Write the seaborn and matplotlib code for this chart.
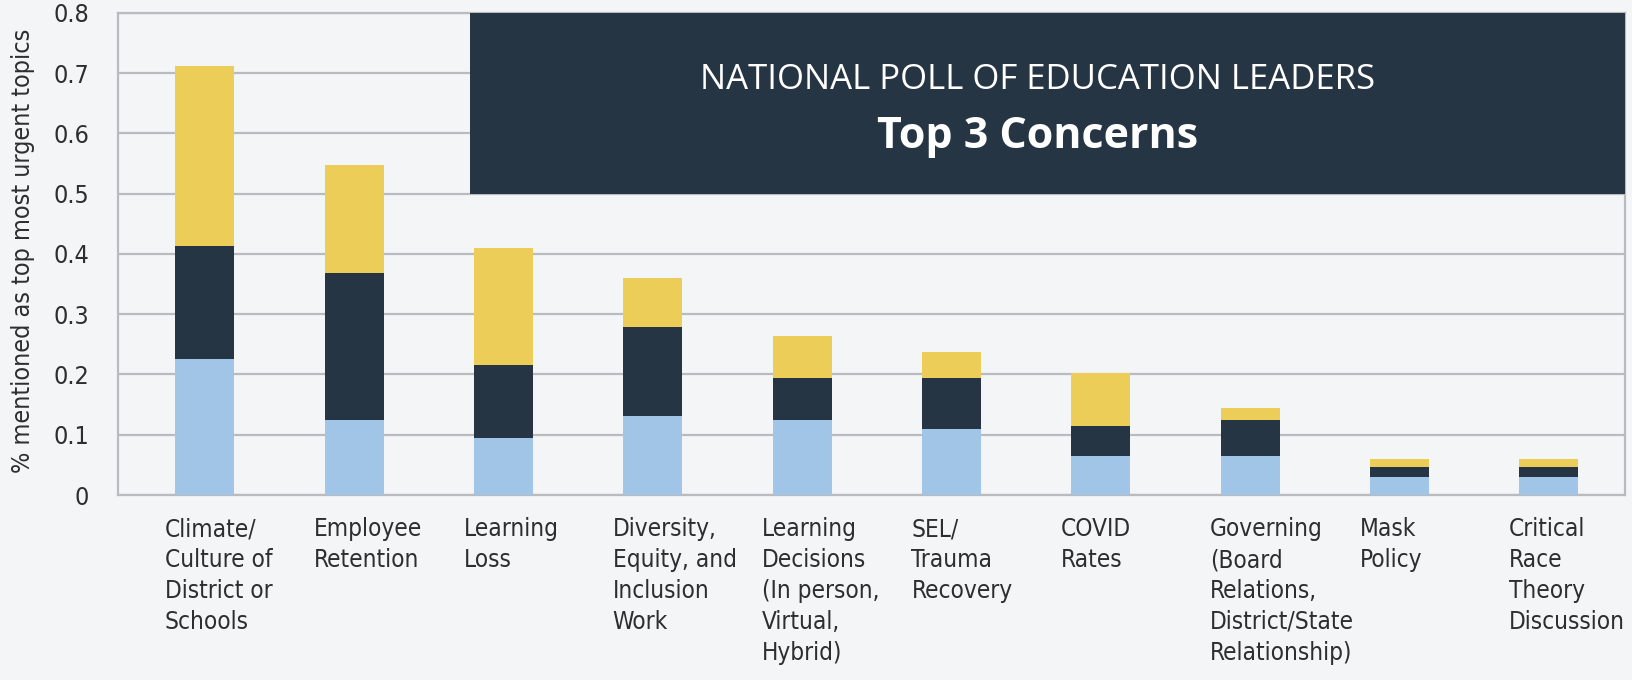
import matplotlib
matplotlib.use("Agg")
import matplotlib.pyplot as plt
import matplotlib.transforms as mtransforms
import seaborn as sns
import pandas as pd
import numpy as np

categories = [
    "Climate/\nCulture of\nDistrict or\nSchools",
    "Employee\nRetention",
    "Learning\nLoss",
    "Diversity,\nEquity, and\nInclusion\nWork",
    "Learning\nDecisions\n(In person,\nVirtual,\nHybrid)",
    "SEL/\nTrauma\nRecovery",
    "COVID\nRates",
    "Governing\n(Board\nRelations,\nDistrict/State\nRelationship)",
    "Mask\nPolicy",
    "Critical\nRace\nTheory\nDiscussion",
]
first_choice = [0.225, 0.125, 0.094, 0.131, 0.124, 0.109, 0.065, 0.065, 0.030, 0.030]
second_choice = [0.188, 0.244, 0.122, 0.147, 0.070, 0.085, 0.050, 0.059, 0.016, 0.016]
third_choice = [0.298, 0.179, 0.194, 0.082, 0.070, 0.044, 0.088, 0.020, 0.014, 0.014]
y_ticks = [0, 0.1, 0.2, 0.3, 0.4, 0.5, 0.6, 0.7, 0.8]
y_tick_labels = ["0", "0.1", "0.2", "0.3", "0.4", "0.5", "0.6", "0.7", "0.8"]
title_line1 = "NATIONAL POLL OF EDUCATION LEADERS"
title_line2 = "Top 3 Concerns"
y_label = "% mentioned as top most urgent topics"

BG = "#F3F5F7"
LIGHT = "#A0C5E7"
DARK = "#253544"
YELLOW = "#EBCD58"
GRID = "#B9BBBE"
TEXT = "#2E2E2E"

sns.set_theme(style="white")
plt.rcParams["font.family"] = ["DejaVu Sans"]
plt.rcParams["font.stretch"] = "condensed"

df = pd.DataFrame({
    "cat": categories,
    "c1": first_choice,
    "c2": np.array(first_choice) + np.array(second_choice),
    "c3": np.array(first_choice) + np.array(second_choice) + np.array(third_choice),
})

fig = plt.figure(figsize=(16.33, 6.8), dpi=100, facecolor=BG)
ax = fig.add_axes([0.0723, 0.272, 0.9228, 0.7093])
ax.set_facecolor(BG)

bw = 0.395
sns.barplot(data=df, x="cat", y="c3", color=YELLOW, width=bw, saturation=1, ax=ax, zorder=3)
sns.barplot(data=df, x="cat", y="c2", color=DARK, width=bw, saturation=1, ax=ax, zorder=3)
sns.barplot(data=df, x="cat", y="c1", color=LIGHT, width=bw, saturation=1, ax=ax, zorder=3)
for p in ax.patches:
    p.set_linewidth(0)

ax.set_xlim(-0.58, 9.51)
ax.set_ylim(0, 0.8)
ax.set_yticks(y_ticks)
ax.set_yticklabels(y_tick_labels)
ax.yaxis.grid(True, color=GRID, linewidth=1.6, zorder=0)
ax.set_axisbelow(True)
for s in ax.spines.values():
    s.set_color(GRID)
    s.set_linewidth(1.6)

# title box
ax.axhspan(0.5, 0.8, xmin=0.2336, xmax=1.0, color=DARK, zorder=4, linewidth=0)
ax.text(0.6105, 0.860, title_line1, transform=ax.transAxes, ha="center", va="center",
        color="white", fontsize=25, family=["Open Sans", "DejaVu Sans"], fontstretch="normal", zorder=5)
ax.text(0.6105, 0.744, title_line2, transform=ax.transAxes, ha="center", va="center",
        color="white", fontsize=31, fontweight="bold", family=["Open Sans", "DejaVu Sans"],
        fontstretch="normal", zorder=5)

ax.set_xlabel("")
ax.set_ylabel(y_label, fontsize=18, color=TEXT)
ax.yaxis.set_label_coords(-0.055, 0.507)
ax.tick_params(axis="y", length=0, pad=21, labelsize=18, labelcolor=TEXT)
ax.tick_params(axis="x", length=0, pad=16, labelsize=17.5, labelcolor=TEXT)

offset = mtransforms.ScaledTranslation(-0.40, 0, fig.dpi_scale_trans)
for lab in ax.get_xticklabels():
    lab.set_horizontalalignment("left")
    lab.set_multialignment("left")
    lab.set_linespacing(1.36)
    lab.set_transform(lab.get_transform() + offset)

fig.savefig("out.png", dpi=100, facecolor=BG)
